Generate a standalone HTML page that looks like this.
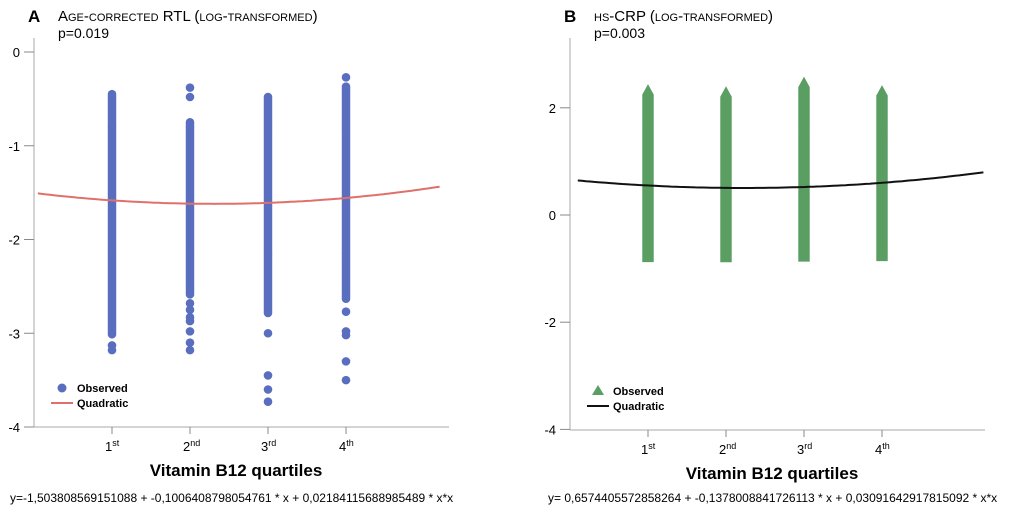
<!DOCTYPE html>
<html><head><meta charset="utf-8"><style>
html,body{margin:0;padding:0;background:#fff;}
svg{display:block;font-family:"Liberation Sans",sans-serif;}
</style></head><body>
<svg id="c" width="1020" height="512" viewBox="0 0 1020 512">
<g id="A"></g>
<g id="B"></g>
</svg>
<script>
const categories = ["1", "2", "3", "4"];
const catSup = ["st", "nd", "rd", "th"];
// Panel A: dense ranges [top,bottom] and isolated points
const rtlDenseTop = [-0.45, -0.75, -0.48, -0.37];
const rtlDenseBottom = [-3.02, -2.6, -2.8, -2.65];
const rtlOutliers = [
  [-3.13, -3.18],
  [-0.38, -0.48, -2.68, -2.75, -2.83, -2.87, -2.98, -3.1, -3.18],
  [-3.0, -3.45, -3.6, -3.73],
  [-0.27, -2.77, -2.98, -3.02, -3.3, -3.5]
];
const rtlCoef = [-1.503808569151088, -0.1006408798054761, 0.02184115688985489];
const rtlTicks = [0, -1, -2, -3, -4];
// Panel B
const crpDenseTop = [2.33, 2.29, 2.47, 2.31];
const crpDenseBottom = [-0.79, -0.79, -0.79, -0.77];
const crpCoef = [0.6574405572858264, -0.1378008841726113, 0.03091642917815092];
const crpTicks = [2, 0, -2, -4];

const NS = "http://www.w3.org/2000/svg";
function mk(parent, tag, attrs, text) {
  const e = document.createElementNS(NS, tag);
  for (const k in attrs) e.setAttribute(k, attrs[k]);
  if (text !== undefined) e.textContent = text;
  parent.appendChild(e);
  return e;
}

function panel(g, cfg) {
  const xS = v => cfg.x0 + v * cfg.xStep;
  const yS = v => cfg.yZero - v * cfg.yUnit;
  let t = mk(g, "text", {x: cfg.x0 - 6, y: 22, "font-size": 17, "font-weight": "bold"}, cfg.letter);
  
  
  t = mk(g, "text", {x: cfg.x0 + 24, y: 21, "font-size": 15, "font-variant": "small-caps"}, cfg.title);
  
  
  t = mk(g, "text", {x: cfg.x0 + 24, y: 38, "font-size": 14}, cfg.p);
  
  
  let a = mk(g, "line", {x1: cfg.x0, y1: 38, x2: cfg.x0, y2: cfg.yBase, stroke: "#aaa", "stroke-width": 1});
  
  
  a = mk(g, "line", {x1: cfg.x0, y1: cfg.yBase, x2: cfg.x0 + 415, y2: cfg.yBase, stroke: "#aaa", "stroke-width": 1});
  
  
  cfg.ticks.forEach(v => {
    const y = yS(v);
    const l = mk(g, "line", {x1: cfg.x0 - 10, y1: y, x2: cfg.x0, y2: y, stroke: "#888"});
    
    
    const tx = mk(g, "text", {x: cfg.x0 - 14, y: y + 5, "font-size": 13, "text-anchor": "end"}, String(v));
    
    
  });
  categories.forEach((c, i) => {
    const x = xS(i + 1);
    const l = mk(g, "line", {x1: x, y1: cfg.yBase, x2: x, y2: cfg.yBase + 7, stroke: "#888"});
    
    
    const tx = mk(g, "text", {x: x - 7, y: cfg.yBase + 24, "font-size": 13}, c);
    
    
    mk(tx, "tspan", {"font-size": 9, dy: -5}, catSup[i]);
  });
  t = mk(g, "text", {x: xS(2.5) + 7, y: cfg.yBase + 49, "font-size": 17, "font-weight": "bold", "text-anchor": "middle"}, "Vitamin B12 quartiles");
  
  
  t = mk(g, "text", {x: cfg.x0 + cfg.eqX, y: 502, "font-size": 12}, cfg.eq);
  
  
  const sg = mk(g, "g", {fill: cfg.color});
  
  
  function mark(x, y) {
    let m;
    if (cfg.tri) m = mk(sg, "polygon", {points: `${x},${y-6} ${x-6},${y+5} ${x+6},${y+5}`});
    else m = mk(sg, "circle", {cx: x, cy: y, r: 4.3});
    
    
  }
  categories.forEach((c, i) => {
    const x = xS(i + 1);
    const y1 = yS(cfg.top[i]), y2 = yS(cfg.bot[i]);
    for (let y = y1; y <= y2; y += (cfg.tri ? 1 : 2)) mark(x, y);
    (cfg.out ? cfg.out[i] : []).forEach(v => mark(x, yS(v)));
  });
  let d = "";
  for (let k = 0; k <= 100; k++) {
    const xv = cfg.cx0 + (cfg.cx1 - cfg.cx0) * k / 100;
    const yv = cfg.coef[0] + cfg.coef[1] * xv + cfg.coef[2] * xv * xv;
    d += (k ? "L" : "M") + xS(xv).toFixed(1) + "," + yS(yv).toFixed(1);
  }
  const p = mk(g, "path", {d: d, fill: "none", stroke: cfg.lineColor, "stroke-width": 2});
  
  
  const lg = mk(g, "g", {});
  
  
  const lx = cfg.x0 + 28, ly = cfg.legY;
  let lm;
  if (cfg.tri) lm = mk(lg, "polygon", {points: `${lx},${ly-6} ${lx-6},${ly+4} ${lx+6},${ly+4}`, fill: cfg.color});
  else lm = mk(lg, "circle", {cx: lx, cy: ly, r: 4.5, fill: cfg.color});
  
  
  t = mk(lg, "text", {x: lx + 15, y: ly + 4, "font-size": 11, "font-weight": "bold"}, "Observed");
  
  
  lm = mk(lg, "line", {x1: lx - 11, y1: ly + 15, x2: lx + 11, y2: ly + 15, stroke: cfg.lineColor, "stroke-width": 2});
  
  
  t = mk(lg, "text", {x: lx + 15, y: ly + 19, "font-size": 11, "font-weight": "bold"}, "Quadratic");
  
  
}

panel(document.getElementById("A"), {
  letter: "A", title: "Age-corrected RTL (log-transformed)", p: "p=0.019",
  x0: 34, xStep: 78, yZero: 52, yUnit: 93.75, yBase: 427, ticks: rtlTicks,
  top: rtlDenseTop, bot: rtlDenseBottom, out: rtlOutliers, coef: rtlCoef,
  cx0: 0.05, cx1: 5.2, color: "#5a6ec0", lineColor: "#e0706a", tri: false, legY: 388,
  eq: "y=-1,503808569151088 + -0,1006408798054761 * x + 0,02184115688985489 * x*x", eqX: -24
});
panel(document.getElementById("B"), {
  letter: "B", title: "hs-CRP (log-transformed)", p: "p=0.003",
  x0: 570, xStep: 78, yZero: 215, yUnit: 53.6, yBase: 430, ticks: crpTicks,
  top: crpDenseTop, bot: crpDenseBottom, out: null, coef: crpCoef,
  cx0: 0.1, cx1: 5.3, color: "#5b9e63", lineColor: "#111", tri: true, legY: 391,
  eq: "y= 0,6574405572858264 + -0,1378008841726113 * x + 0,03091642917815092 * x*x", eqX: -22
});
</script>
</body></html>
